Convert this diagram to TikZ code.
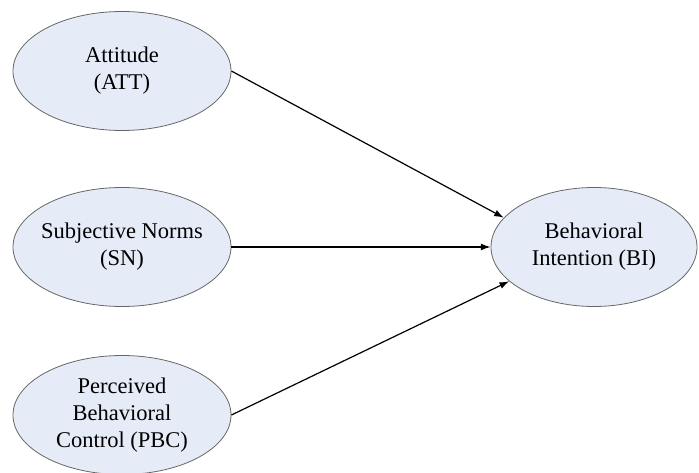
\documentclass[tikz,border=0pt]{standalone}
\usepackage{fontspec}
\setmainfont{Liberation Serif}
\usetikzlibrary{arrows.meta,shapes.geometric}
\definecolor{ellfill}{RGB}{229,235,247}

\begin{document}
\begin{tikzpicture}[x=1pt, y=-1pt, >={Latex[length=3.4mm,width=2.4mm]},
  construct/.style={draw=black!60, line width=0.8pt, fill=ellfill, ellipse, minimum width=218pt, minimum height=119pt, inner ysep=0pt, inner xsep=-30pt, align=center, font=\fontsize{22.5}{27}\selectfont},
  path/.style={->, line width=1.2pt}]
\useasboundingbox (0,0) rectangle (699,473);
\node[construct] (att) at (122,71) {Attitude\\(ATT)};
\node[construct] (sn) at (122,247) {Subjective Norms\\(SN)};
\node[construct] (pbc) at (122,415) {Perceived\\Behavioral\\Control (PBC)};
\node[construct, minimum width=206pt] (bi) at (594,247) {Behavioral\\Intention (BI)};
\draw[path] (att.east)--(bi.162); \draw[path] (sn.east)--(bi.west); \draw[path] (pbc.east)--(bi.202);
\end{tikzpicture}
\end{document}
